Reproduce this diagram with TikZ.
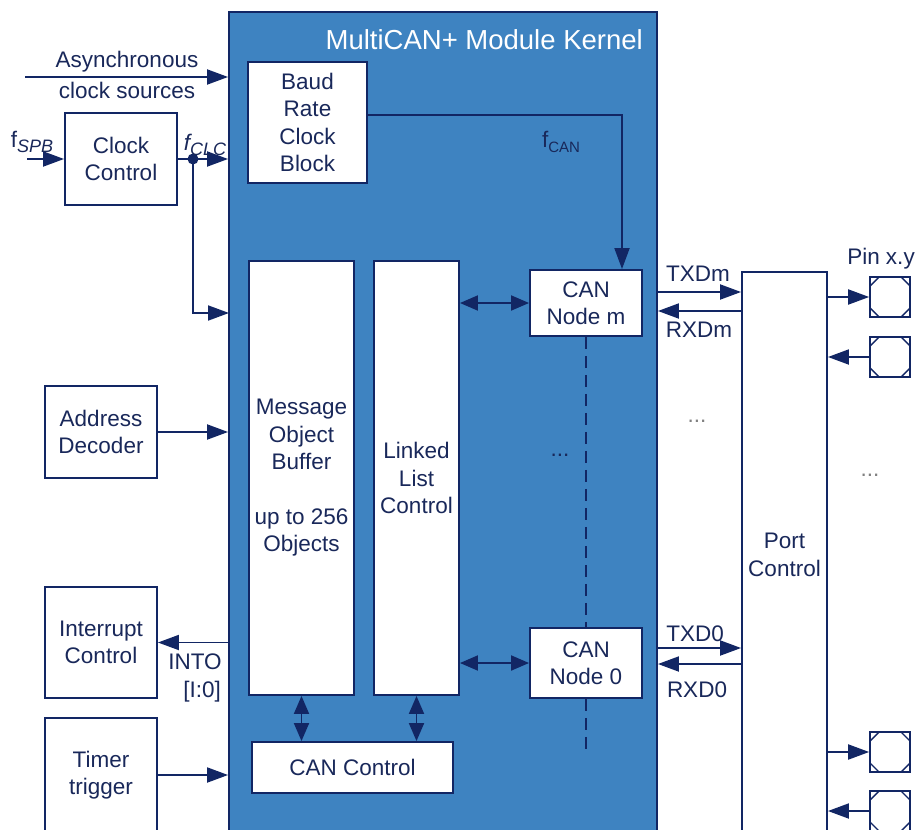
\documentclass[tikz,border=0pt]{standalone}
\usepackage{fontspec}
\setmainfont{Liberation Sans}
\usetikzlibrary{arrows.meta,calc}
\definecolor{navy}{RGB}{18,38,100}
\definecolor{txt}{RGB}{25,40,90}
\definecolor{kern}{RGB}{62,131,193}
\newcommand\mybody{\fontsize{22.5}{27.4}\selectfont}
\newcommand\mytitle{\fontsize{27.5}{32}\selectfont}
\newcommand\mysub[2]{\raisebox{-5pt}{\fontsize{#1}{#1}\selectfont #2}}
\tikzset{
  ln/.style={draw=navy, line width=1.9pt},
  box/.style={draw=navy, line width=1.9pt, fill=white, text=txt, align=center, inner sep=0pt, font=\mybody},
  arr/.style={navy, line width=1.9pt, -{Triangle[length=21pt,width=15pt]}},
  darr/.style={navy, line width=1.9pt, {Triangle[length=18pt,width=15pt]}-{Triangle[length=18pt,width=15pt]}},
  lbl/.style={text=txt, inner sep=0pt, font=\mybody, align=center},
  pin/.style={draw=navy, line width=1.7pt, fill=white, minimum size=40pt, inner sep=0pt,
    path picture={
      \draw[navy,line width=1.4pt]
        ($(path picture bounding box.north west)+(9pt,0)$) -- ++(-9pt,-9pt)
        ($(path picture bounding box.north east)+(-9pt,0)$) -- ++(9pt,-9pt)
        ($(path picture bounding box.south west)+(9pt,0)$) -- ++(-9pt,9pt)
        ($(path picture bounding box.south east)+(-9pt,0)$) -- ++(9pt,9pt);
    }},
}
\begin{document}
\begin{tikzpicture}[x=1pt,y=-1pt]
\clip (0,0) rectangle (917,829);
\fill[white] (0,0) rectangle (917,829);

% kernel
\node[draw=navy, line width=1.9pt, fill=kern, minimum width=428pt, minimum height=828pt, inner sep=0pt] (kernel) at (443,426) {};
\node[lbl, text=white, font=\mytitle, anchor=east] (title) at (643,40) {MultiCAN+ Module Kernel};

% inner blocks
\node[box, minimum width=119pt, minimum height=121pt] (baud) at (307.5,122.5) {Baud\\Rate\\Clock\\Block};
\node[box, minimum width=105pt, minimum height=434pt] (mob) at (301.5,478) {Message\\Object\\Buffer\\[27.4pt]up to 256\\Objects};
\node[box, minimum width=85pt, minimum height=434pt] (llc) at (416.5,478) {Linked\\List\\Control};
\node[box, minimum width=112pt, minimum height=66pt] (canm) at (586,303) {CAN\\Node m};
\node[box, minimum width=112pt, minimum height=70pt] (can0) at (586,663) {CAN\\Node 0};
\node[box, minimum width=201pt, minimum height=51pt] (canctl) at (352.5,767.5) {CAN Control};

% outside blocks
\node[box, minimum width=85pt, minimum height=566pt] (port) at (784.5,555) {Port\\Control};
\node[box, minimum width=112pt, minimum height=92pt] (clk) at (121,159) {Clock\\Control};
\node[box, minimum width=112pt, minimum height=92pt] (addr) at (101,432) {Address\\Decoder};
\node[box, minimum width=112pt, minimum height=111pt] (intc) at (101,642.5) {Interrupt\\Control};
\node[box, minimum width=112pt, minimum height=114pt] (timer) at (101,775) {Timer\\trigger};

% pins
\node[pin] (p1) at (890,297) {};
\node[pin] (p2) at (890,357) {};
\node[pin] (p3) at (890,752) {};
\node[pin] (p4) at (890,811) {};

% coordinates
\coordinate (asyncstart) at (25,77);
\coordinate (fspbstart) at (27,159);
\coordinate (dot) at (193,159);
\coordinate (mobin) at (229,313);
\coordinate (dashend) at (586,752);
\coordinate (txm) at (0,292);
\coordinate (rxm) at (0,311);
\coordinate (txz) at (0,648);
\coordinate (rxz) at (0,664);

% left connectors
\draw[arr] (asyncstart) -- (asyncstart -| kernel.west);
\draw[arr] (fspbstart) -- (clk.west);
\draw[arr] (clk.east) -- (clk.east -| kernel.west);
\fill[navy] (dot) circle (5.5pt);
\draw[arr] (dot) |- (mobin);
\draw[arr] (addr.east) -- (addr.east -| kernel.west);
\draw[arr] (intc.east -| kernel.west) -- (intc.east);
\draw[arr] (timer.east) -- (timer.east -| kernel.west);

% inner connectors
\draw[arr] ([yshift=7.5pt]baud.east) -| ([xshift=36pt]canm.north);
\draw[darr] (canm.west -| llc.east) -- (canm.west);
\draw[darr] (can0.west -| llc.east) -- (can0.west);
\draw[darr] (mob.south) -- (mob.south |- canctl.north);
\draw[darr] (llc.south) -- (llc.south |- canctl.north);
\draw[ln, dash pattern=on 12pt off 7pt] (canm.south) -- (can0.north);
\draw[ln, dash pattern=on 12pt off 7pt] (can0.south) -- (dashend);

% right connectors
\draw[arr] (kernel.east |- txm) -- (port.west |- txm);
\draw[arr] (port.west |- rxm) -- (kernel.east |- rxm);
\draw[arr] (kernel.east |- txz) -- (port.west |- txz);
\draw[arr] (port.west |- rxz) -- (kernel.east |- rxz);
\draw[arr] (port.east |- p1) -- (p1.west);
\draw[arr] (p2.west) -- (port.east |- p2);
\draw[arr] (port.east |- p3) -- (p3.west);
\draw[arr] (p4.west) -- (port.east |- p4);

% labels
\node[lbl] (async1) at (127,62) {Asynchronous};
\node[lbl] (async2) at (127,90) {clock sources};
\node[lbl] (fspb) at (32,142) {f\mysub{18}{\itshape SPB}};
\node[lbl] (fclc) at (205,145) {\itshape f\mysub{18}{CLC}};
\node[lbl] (fcan) at (561,142) {f\mysub{15}{CAN}};
\node[lbl] (txdm) at (698,274) {TXDm};
\node[lbl] (rxdm) at (699,330) {RXDm};
\node[lbl] (txd0) at (695,634) {TXD0};
\node[lbl] (rxd0) at (697,690) {RXD0};
\node[lbl] (pinxy) at (881,259) {Pin x.y};
\node[lbl] (into) at (195,662) {INTO};
\node[lbl, anchor=east] (intoidx) at (221,692) {[I:0]};
\node[lbl] (dots1) at (560,455) {...};
\node[lbl, text=gray] (dots2) at (697,421) {...};
\node[lbl, text=gray] (dots3) at (870,475) {...};
\end{tikzpicture}
\end{document}
